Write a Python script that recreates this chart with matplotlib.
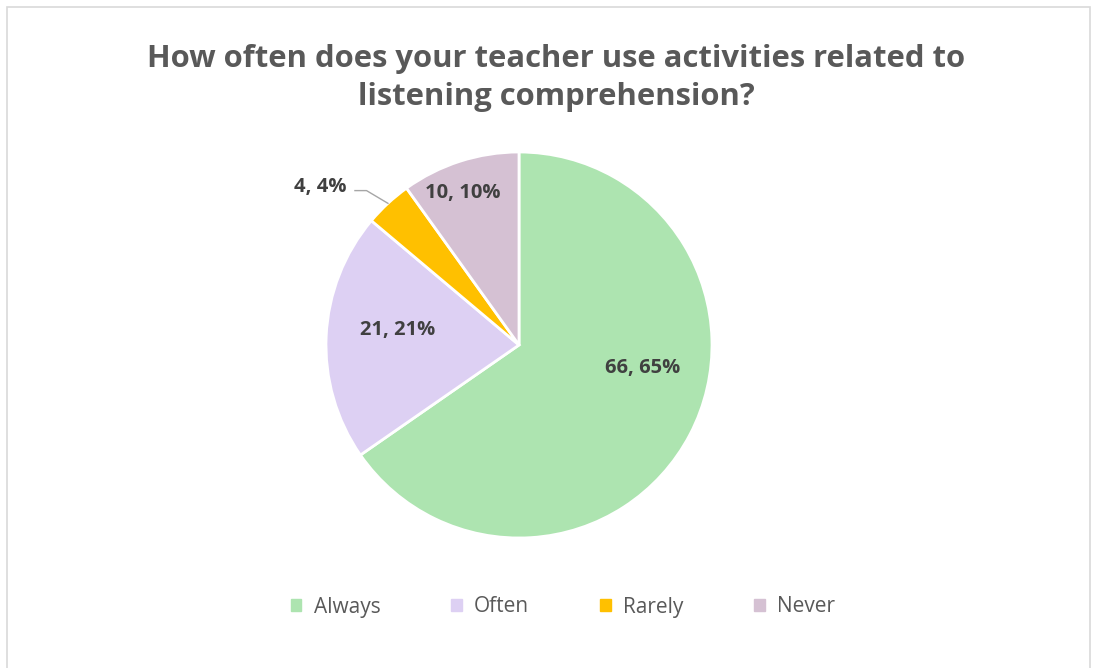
import numpy as np
import matplotlib.pyplot as plt
from matplotlib.patches import Rectangle

categories = ['Always', 'Often', 'Rarely', 'Never']
counts = [66, 21, 4, 10]
percents = [65, 21, 4, 10]
colors = ['#ade4b0', '#ddd0f3', '#ffc000', '#d5c1d3']
title = 'How often does your teacher use activities related to\nlistening comprehension?'

# label spots in pie radius units (best-fit placement like Excel)
label_pos = [(0.64, -0.12), (-0.63, 0.08), (-1.03, 0.82), (-0.29, 0.79)]

plt.rcParams['font.family'] = ['Open Sans', 'DejaVu Sans']

W, H = 1097, 668
fig = plt.figure(figsize=(W / 100, H / 100), dpi=100)
fig.patches.append(Rectangle((7 / W, -0.01), (1090 - 7) / W, (H - 7) / H + 0.01,
                             transform=fig.transFigure, fill=False,
                             edgecolor='#d9d9d9', lw=1.2))

cx, cy, r = 519, 345, 193
ax = fig.add_axes([(cx - r) / W, (H - cy - r) / H, 2 * r / W, 2 * r / H])
wedges, _ = ax.pie(counts, colors=colors, startangle=90, counterclock=False,
                   wedgeprops=dict(edgecolor='white', linewidth=2))
ax.set_xlim(-1, 1)
ax.set_ylim(-1, 1)
ax.set_aspect('equal')
ax.axis('off')

for i, (c, p) in enumerate(zip(counts, percents)):
    x, y = label_pos[i]
    ax.text(x, y, f'{c}, {p}%', ha='center', va='center', fontsize=14.5,
            fontweight='bold', color='#404040')

# leader line for the small slice
w = wedges[2]
mid = np.deg2rad((w.theta1 + w.theta2) / 2)
ex, ey = np.cos(mid), np.sin(mid)
lx, ly = label_pos[2]
ax.plot([lx + 0.18, lx + 0.24, ex], [ly - 0.02, ly - 0.02, ey],
        color='#a6a6a6', lw=1, clip_on=False)

fig.text(556 / W, 1 - 78 / H, title, ha='center', va='center', fontsize=22.3,
         fontweight='bold', color='#595959', linespacing=1.38)

handles = [Rectangle((0, 0), 1, 1, color=col) for col in colors]
fig.legend(handles, categories, loc='center', bbox_to_anchor=(563 / W, 1 - 607 / H),
           ncol=4, frameon=False, fontsize=15, labelcolor='#595959',
           handlelength=0.5, handleheight=0.5, columnspacing=3.4, handletextpad=0.6)

fig.savefig('out.png', dpi=100)
